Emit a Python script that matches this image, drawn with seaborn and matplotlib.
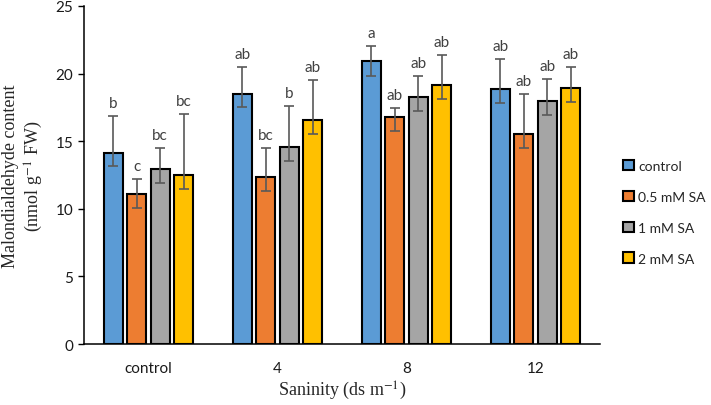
import matplotlib
matplotlib.use("Agg")

import pandas as pd
import seaborn as sns
import matplotlib.pyplot as plt


# =========================
# 1. Data
# =========================

salinity = ["control", "4", "8", "12"]
treatments = ["control", "0.5 mM SA", "1 mM SA", "2 mM SA"]

# mean MDA per treatment, in salinity order
mda_control = [14.15, 18.51, 20.90, 18.83]
mda_05 = [11.07, 12.32, 16.81, 15.50]
mda_1 = [12.91, 14.57, 18.24, 17.94]
mda_2 = [12.47, 16.54, 19.13, 18.96]

# upper / lower error lengths
err_up_control = [2.71, 1.95, 1.11, 2.22]
err_up_05 = [1.16, 2.18, 0.65, 3.01]
err_up_1 = [1.56, 3.01, 1.60, 1.63]
err_up_2 = [4.56, 3.01, 2.27, 1.53]

err_lo_control = [0.98, 1.01, 1.06, 1.00]
err_lo_05 = [1.01, 0.98, 1.06, 1.00]
err_lo_1 = [0.98, 1.01, 1.01, 1.00]
err_lo_2 = [1.01, 1.01, 0.99, 1.04]

letters_control = ["b", "ab", "a", "ab"]
letters_05 = ["c", "bc", "ab", "ab"]
letters_1 = ["bc", "b", "ab", "ab"]
letters_2 = ["bc", "ab", "ab", "ab"]

colors = ["#5B9BD5", "#ED7D31", "#A5A5A5", "#FFC000"]

df = pd.DataFrame({
    "Salinity": salinity * 4,
    "Treatment": [t for t in treatments for _ in salinity],
    "MDA": mda_control + mda_05 + mda_1 + mda_2,
    "up": err_up_control + err_up_05 + err_up_1 + err_up_2,
    "lo": err_lo_control + err_lo_05 + err_lo_1 + err_lo_2,
    "letter": letters_control + letters_05 + letters_1 + letters_2,
})


# =========================
# 2. Plot
# =========================

sns.set_theme(style="white")
plt.rcParams["mathtext.fontset"] = "stix"
tick_font = ["Lato", "DejaVu Sans"]
serif_font = ["Liberation Serif", "DejaVu Serif"]

fig = plt.figure(figsize=(7.11, 4.06), dpi=100)
ax = fig.add_axes([0.118, 0.150, 0.726, 0.833])

sns.barplot(
    data=df,
    x="Salinity",
    y="MDA",
    hue="Treatment",
    order=salinity,
    hue_order=treatments,
    palette=colors,
    width=0.73,
    gap=0.2,
    edgecolor="black",
    linewidth=1.5,
    errorbar=None,
    saturation=1,
    ax=ax,
)

# error bars and letters drawn at the bar positions seaborn used
bars = [p for p in ax.patches if p.get_height() > 0]
for i, t in enumerate(treatments):
    sub = df[df["Treatment"] == t].set_index("Salinity").loc[salinity]
    group_bars = bars[i * len(salinity):(i + 1) * len(salinity)]
    for bar, (_, row) in zip(group_bars, sub.iterrows()):
        xc = bar.get_x() + bar.get_width() / 2
        ax.errorbar(
            xc, row["MDA"],
            yerr=[[row["lo"]], [row["up"]]],
            color="#595959", capsize=3.5, elinewidth=1.2, capthick=1.2,
        )
        ax.text(
            xc, row["MDA"] + row["up"] + 0.45, row["letter"],
            ha="center", va="bottom", fontsize=11, color="#404040",
            family=tick_font,
        )

ax.set_ylim(0, 25)
ax.set_yticks([0, 5, 10, 15, 20, 25])
ax.set_xlim(-0.5, 3.5)
ax.set_xticks([-0.5, 0.5, 1.5, 2.5, 3.5], minor=True)
ax.tick_params(axis="x", which="major", length=0, pad=12)
ax.tick_params(axis="x", which="minor", length=5, width=1, color="black", direction="out")
ax.tick_params(axis="y", length=4, width=1, color="black", direction="out", left=True)
for lab in ax.get_xticklabels() + ax.get_yticklabels():
    lab.set_family(tick_font)
    lab.set_fontsize(11)
    lab.set_color("#1a1a1a")

for s in ["top", "right"]:
    ax.spines[s].set_visible(False)
for s in ["left", "bottom"]:
    ax.spines[s].set_color("black")
    ax.spines[s].set_linewidth(1.1)

ax.set_xlabel("Saninity (ds m$^{-1}$)", family=serif_font, fontsize=13, labelpad=3)
ax.set_ylabel("Malondialdehyde content\n(nmol g$^{-1}$ FW)", family=serif_font,
              fontsize=13, labelpad=8)

leg = ax.legend(
    loc="center left",
    bbox_to_anchor=(1.02, 0.39),
    frameon=False,
    handlelength=0.8,
    handleheight=0.8,
    handletextpad=0.3,
    labelspacing=1.35,
    prop={"family": tick_font, "size": 10},
)

fig.savefig("out.png", dpi=100)
